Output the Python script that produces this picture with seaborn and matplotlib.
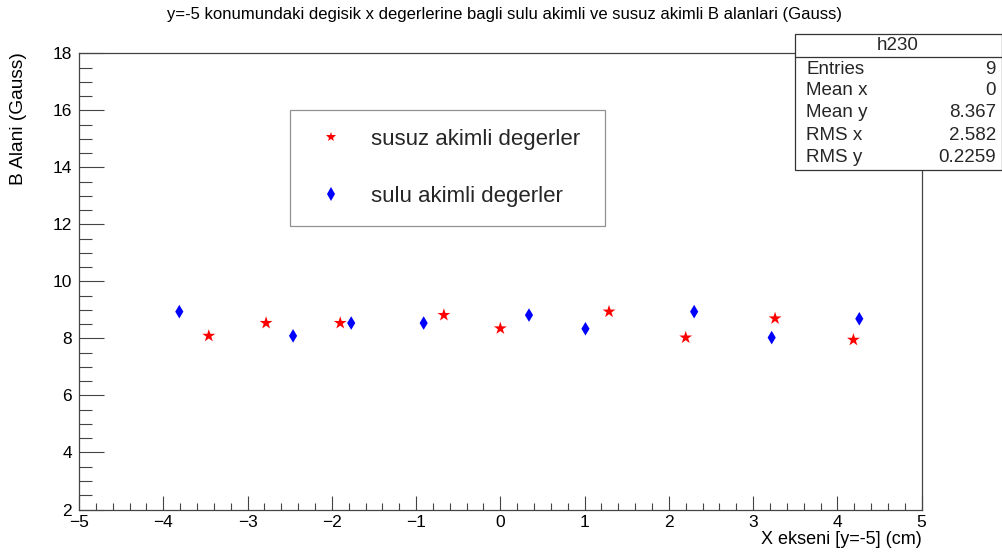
import numpy as np
import pandas as pd
import matplotlib
matplotlib.use("Agg")
import matplotlib.pyplot as plt
from matplotlib.ticker import MultipleLocator
from matplotlib.patches import Rectangle
import seaborn as sns

# Field measurements along y = -5 cm
x_susuz = [-3.46, -2.78, -1.90, -0.67, 0.00, 1.29, 2.20, 3.26, 4.19]
b_susuz = [8.09, 8.54, 8.54, 8.82, 8.35, 8.94, 8.03, 8.70, 7.95]
x_sulu = [-3.81, -2.46, -1.77, -0.91, 0.34, 1.01, 2.30, 3.22, 4.26]
b_sulu = [8.94, 8.09, 8.54, 8.54, 8.82, 8.34, 8.94, 8.03, 8.69]

series_names = ["susuz akimli degerler", "sulu akimli degerler"]

title = ("y=-5 konumundaki degisik x degerlerine bagli sulu akimli "
         "ve susuz akimli B alanlari (Gauss)")
xlabel = "X ekseni [y=-5] (cm)"
ylabel = "B Alani (Gauss)"

stats_name = "h230"
stats_labels = ["Entries", "Mean x", "Mean y", "RMS x", "RMS y"]
stats_values = ["9", "0", "8.367", "2.582", "0.2259"]

df = pd.DataFrame({
    "x": x_susuz + x_sulu,
    "B": b_susuz + b_sulu,
    "seri": [series_names[0]] * len(x_susuz) + [series_names[1]] * len(x_sulu),
})

sns.set_theme(style="white")
plt.rcParams["font.family"] = ["Liberation Sans", "DejaVu Sans"]
plt.rcParams["axes.unicode_minus"] = True

fig = plt.figure(figsize=(10.03, 5.56), dpi=100)
ax = fig.add_axes([0.0788, 0.0836, 0.8401, 0.8205])

sns.scatterplot(
    data=df, x="x", y="B", hue="seri", style="seri", size="seri",
    palette={series_names[0]: "#ff0000", series_names[1]: "#0000ff"},
    markers={series_names[0]: "*", series_names[1]: "d"},
    sizes={series_names[0]: 95, series_names[1]: 48},
    linewidth=0, ax=ax, legend=True,
)

ax.set_xlim(-5, 5)
ax.set_ylim(2, 18)
ax.xaxis.set_major_locator(MultipleLocator(1))
ax.xaxis.set_minor_locator(MultipleLocator(0.2))
ax.yaxis.set_major_locator(MultipleLocator(2))
ax.yaxis.set_minor_locator(MultipleLocator(0.5))
tick_col = "#444444"
ax.tick_params(axis="x", which="major", direction="in", length=10, width=0.8,
               color=tick_col, labelsize=12.5, pad=4, top=False, bottom=True)
ax.tick_params(axis="x", which="minor", direction="in", length=5, width=0.8,
               color=tick_col, top=False, bottom=True)
ax.tick_params(axis="y", which="major", direction="in", length=18, width=0.8,
               color=tick_col, labelsize=12.5, pad=5, left=True, right=False)
ax.tick_params(axis="y", which="minor", direction="in", length=9, width=0.8,
               color=tick_col, left=True, right=False)
ax.tick_params(labelcolor="black")
for sp in ax.spines.values():
    sp.set_visible(True)
    sp.set_color("#444444")
    sp.set_linewidth(0.9)

ax.set_xlabel(xlabel, fontsize=13, loc="right", color="black")
ax.set_ylabel(ylabel, fontsize=13.8, loc="top", color="black")
ax.xaxis.set_label_coords(1.0, -0.046)
ax.yaxis.set_label_coords(-0.062, 1.002)

fig.text(0.503, 1 - 15 / 556, title, ha="center", va="center", fontsize=12, color="black")

# Legend box
handles, labels = ax.get_legend_handles_labels()
leg = ax.legend(handles, labels, loc="upper left",
                bbox_to_anchor=(0.2504, 0.876, 0.3736, 0.0), mode="expand",
                fontsize=16, frameon=True, fancybox=False, edgecolor="#777777",
                borderpad=0.85, labelspacing=1.62, handlelength=2.0,
                handletextpad=0.8, borderaxespad=0)
leg.get_frame().set_linewidth(0.9)
for h, sz in zip(leg.legend_handles, [60, 45]):
    try:
        h.set_sizes([sz])
    except AttributeError:
        h.set_markersize(np.sqrt(sz))

# Statistics box
W, H = fig.get_size_inches() * fig.dpi
def fx(px):
    return px / W
def fy(py):
    return 1 - py / H

box = Rectangle((fx(795), fy(169.5)), fx(1002) - fx(795), fy(34.5) - fy(169.5),
                transform=fig.transFigure, facecolor="white",
                edgecolor="#333333", linewidth=0.9, zorder=5)
fig.patches.append(box)
fig.add_artist(plt.Line2D([fx(795), fx(1002)], [fy(56.5), fy(56.5)],
                          transform=fig.transFigure, color="#333333",
                          linewidth=0.9, zorder=6))
fig.text(fx(898), fy(45.5), stats_name, ha="center", va="center",
         fontsize=13.5, zorder=7)
row_y = [69.5, 90.5, 112.5, 135.5, 157.5]
for lab, val, yy in zip(stats_labels, stats_values, row_y):
    fig.text(fx(806), fy(yy), lab, ha="left", va="center", fontsize=13.5, zorder=7)
    fig.text(fx(996), fy(yy), val, ha="right", va="center", fontsize=13.5, zorder=7)

fig.savefig("out.png", dpi=100, facecolor="white")
